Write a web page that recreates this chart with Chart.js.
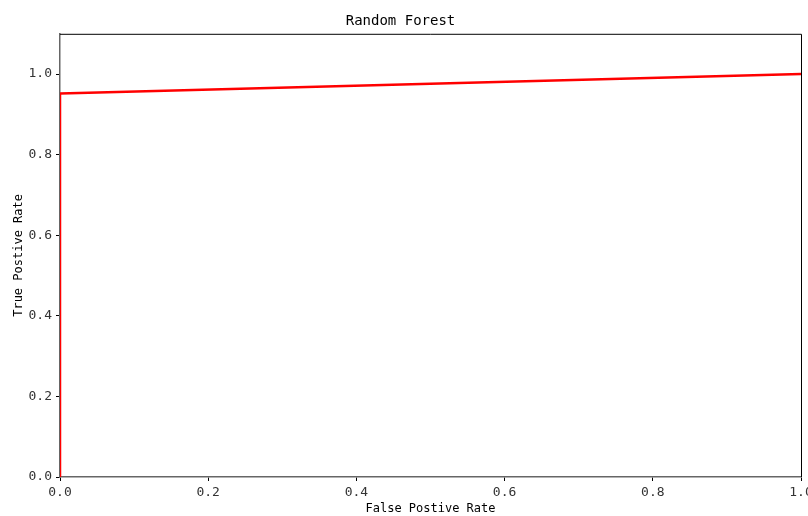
<!DOCTYPE html>
<html>
<head>
<meta charset="utf-8">
<script src="https://cdn.jsdelivr.net/npm/chart.js@4"></script>
<style>
  html, body { margin: 0; padding: 0; background: #fff; }
  #wrap { width: 808px; height: 516px; }
</style>
</head>
<body>
<div id="wrap"><canvas id="roc"></canvas></div>
<script>
// ROC points
const fpr = [0, 0, 1];
const tpr = [0, 0.952, 1];
const xTicks = [0, 0.2, 0.4, 0.6, 0.8, 1.0];
const yTicks = [0, 0.2, 0.4, 0.6, 0.8, 1.0];

const fontFam = "'DejaVu Sans Mono', monospace";

// top and right spines are black, like matplotlib
const frame = {
  id: 'frame',
  afterDraw(chart) {
    const a = chart.chartArea, ctx = chart.ctx;
    ctx.save();
    ctx.strokeStyle = '#000';
    ctx.lineWidth = 1;
    ctx.beginPath();
    ctx.moveTo(a.left, a.top + 0.5);
    ctx.lineTo(a.right + 0.5, a.top + 0.5);
    ctx.lineTo(a.right + 0.5, a.bottom);
    ctx.stroke();
    ctx.restore();
  }
};

new Chart(document.querySelector('#roc'), {
  type: 'scatter',
  data: {
    datasets: [{
      data: fpr.map((x, i) => ({ x: x, y: tpr[i] })),
      showLine: true,
      borderColor: 'rgb(255, 0, 0)',
      borderWidth: 2.5,
      pointRadius: 0,
      fill: false,
      tension: 0
    }]
  },
  options: {
    animation: false,
    responsive: true,
    maintainAspectRatio: false,
    layout: { autoPadding: false, padding: { top: 0, right: 7, left: 0, bottom: 0 } },
    plugins: {
      legend: { display: false },
      tooltip: { enabled: false },
      title: {
        display: true,
        text: 'Random Forest',
        color: '#000',
        font: { family: fontFam, size: 14, weight: 'normal' },
        padding: { top: 13, bottom: 4 }
      }
    },
    scales: {
      x: {
        type: 'linear',
        min: 0,
        max: 1,
        afterBuildTicks: s => { s.ticks = xTicks.map(v => ({ value: v })); },
        afterFit: s => { s.height = 39; s.paddingLeft = 0; s.paddingRight = 0; },
        grid: { display: true, drawOnChartArea: false, drawTicks: true, tickLength: 4, color: '#000' },
        border: { color: '#666', width: 1.5 },
        ticks: {
          color: '#333',
          padding: 4,
          maxRotation: 0,
          font: { family: fontFam, size: 13 },
          callback: v => v.toFixed(1)
        },
        title: {
          display: true,
          text: 'False Postive Rate',
          color: '#000',
          padding: { top: 0, bottom: 0 },
          font: { family: fontFam, size: 12 }
        }
      },
      y: {
        type: 'linear',
        min: 0,
        max: 1.1,
        afterBuildTicks: s => { s.ticks = yTicks.map(v => ({ value: v })); },
        afterFit: s => { s.width = 60; s.paddingTop = 0; s.paddingBottom = 0; },
        grid: { display: true, drawOnChartArea: false, drawTicks: true, tickLength: 4, color: '#000' },
        border: { color: '#666', width: 1.5 },
        ticks: {
          color: '#333',
          padding: 4,
          font: { family: fontFam, size: 13 },
          callback: v => v.toFixed(1)
        },
        title: {
          display: true,
          text: 'True Postive Rate',
          color: '#000',
          padding: { top: 12, bottom: 0 },
          font: { family: fontFam, size: 12 }
        }
      }
    }
  },
  plugins: [frame]
});
</script>
</body>
</html>
